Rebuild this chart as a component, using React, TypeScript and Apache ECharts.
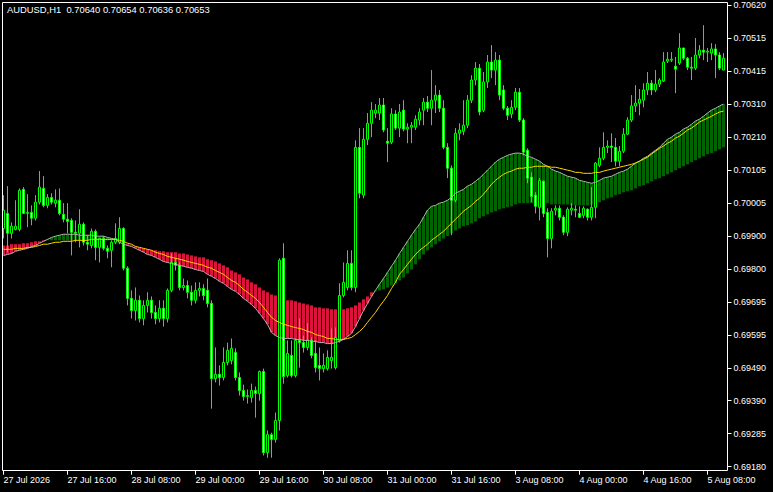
import React, { useEffect, useRef } from "react";
import * as echarts from "echarts";

const chartTitle = "AUDUSD,H1  0.70640 0.70654 0.70636 0.70653";
const xTickLabels = ["27 Jul 2026", "27 Jul 16:00", "28 Jul 08:00", "29 Jul 00:00", "29 Jul 16:00", "30 Jul 08:00", "31 Jul 00:00", "31 Jul 16:00", "3 Aug 08:00", "4 Aug 00:00", "4 Aug 16:00", "5 Aug 08:00"];
const BARS_PER_TICK = 16;
const yTickLabels = ["0.69180", "0.69285", "0.69390", "0.69490", "0.69595", "0.69695", "0.69800", "0.69900", "0.70005", "0.70105", "0.70210", "0.70310", "0.70415", "0.70515", "0.70620"];
const priceMin = 0.6918;
const priceMax = 0.7062;

// hourly bars: [open, high, low, close]
const ohlc: number[][] = [
  [0.69923, 0.70027, 0.69892, 0.6998], [0.6997, 0.70055, 0.69849, 0.69908], [0.69908, 0.69942, 0.69892, 0.6993], [0.6992, 0.70011, 0.69917, 0.6993],
  [0.6992, 0.70048, 0.69914, 0.70042], [0.70045, 0.70052, 0.6997, 0.6997], [0.6997, 0.7003, 0.69927, 0.69973], [0.69973, 0.69995, 0.69933, 0.69955],
  [0.69955, 0.70027, 0.69948, 0.70005], [0.70005, 0.70102, 0.69998, 0.70052], [0.70048, 0.70086, 0.69989, 0.69995], [0.69995, 0.7003, 0.69986, 0.7002],
  [0.7002, 0.70033, 0.69998, 0.70005], [0.70002, 0.70045, 0.69989, 0.70011], [0.70011, 0.70048, 0.69964, 0.6997], [0.69967, 0.70002, 0.69942, 0.69952],
  [0.69952, 0.70002, 0.69908, 0.69945], [0.69948, 0.69955, 0.69839, 0.69911], [0.69911, 0.69948, 0.6988, 0.69908], [0.69908, 0.69983, 0.69864, 0.69936],
  [0.69936, 0.69942, 0.6987, 0.6988], [0.6988, 0.69902, 0.69855, 0.69874], [0.6987, 0.69923, 0.69861, 0.69914], [0.69914, 0.6992, 0.69824, 0.69864],
  [0.69864, 0.69892, 0.69817, 0.69892], [0.69892, 0.69899, 0.69855, 0.69861], [0.69861, 0.6987, 0.6983, 0.69852], [0.69855, 0.69886, 0.69802, 0.6988],
  [0.6988, 0.69939, 0.69874, 0.69892], [0.6988, 0.69958, 0.69874, 0.69923], [0.69923, 0.69927, 0.69792, 0.69799], [0.69799, 0.69805, 0.69683, 0.69705],
  [0.69705, 0.6973, 0.69642, 0.69667], [0.69667, 0.69739, 0.69636, 0.69699], [0.69699, 0.69714, 0.6963, 0.69642], [0.69642, 0.69699, 0.69621, 0.69683],
  [0.69683, 0.69724, 0.69661, 0.69699], [0.69699, 0.69711, 0.69642, 0.69661], [0.69661, 0.69683, 0.69624, 0.69642], [0.69642, 0.69699, 0.6963, 0.69674],
  [0.69674, 0.69699, 0.69617, 0.69642], [0.69642, 0.69736, 0.6963, 0.6973], [0.6973, 0.69845, 0.69724, 0.69817], [0.69817, 0.6983, 0.69792, 0.69808],
  [0.69808, 0.69817, 0.6973, 0.69739], [0.69739, 0.69767, 0.6973, 0.69745], [0.69745, 0.69761, 0.69705, 0.69724], [0.69724, 0.69745, 0.69683, 0.69699],
  [0.69699, 0.69755, 0.69689, 0.6973], [0.6973, 0.69755, 0.69711, 0.69736], [0.69736, 0.69749, 0.69699, 0.69714], [0.6973, 0.69767, 0.69677, 0.69689],
  [0.69689, 0.69699, 0.69361, 0.69455], [0.69455, 0.69552, 0.69443, 0.69468], [0.69468, 0.69496, 0.69433, 0.69458], [0.69458, 0.69552, 0.69449, 0.69505],
  [0.69505, 0.69567, 0.69496, 0.69543], [0.69511, 0.6958, 0.69499, 0.69549], [0.69536, 0.69549, 0.69449, 0.69458], [0.69458, 0.69474, 0.69402, 0.69418],
  [0.69418, 0.69436, 0.69386, 0.69399], [0.69399, 0.69421, 0.69377, 0.69402], [0.69396, 0.69439, 0.6938, 0.69418], [0.69418, 0.6943, 0.69333, 0.69408],
  [0.69408, 0.6948, 0.69386, 0.69477], [0.69477, 0.69486, 0.69215, 0.69224], [0.69224, 0.69293, 0.69208, 0.6928], [0.6928, 0.69286, 0.69208, 0.69265],
  [0.69265, 0.69349, 0.69255, 0.69324], [0.69324, 0.6983, 0.69293, 0.69824], [0.6983, 0.69877, 0.69439, 0.69461], [0.69464, 0.69574, 0.69458, 0.69533],
  [0.69527, 0.69574, 0.69458, 0.69464], [0.69464, 0.6958, 0.69458, 0.69574], [0.69574, 0.69642, 0.69489, 0.69567], [0.69567, 0.69589, 0.69536, 0.69552],
  [0.69552, 0.69627, 0.69543, 0.69574], [0.69574, 0.69583, 0.69518, 0.69527], [0.69533, 0.69574, 0.69474, 0.69489], [0.69496, 0.69552, 0.69449, 0.69486],
  [0.69486, 0.69533, 0.69474, 0.69496], [0.69486, 0.69543, 0.6948, 0.69521], [0.69511, 0.69611, 0.69486, 0.69521], [0.69489, 0.69614, 0.69483, 0.69583],
  [0.69574, 0.69752, 0.69567, 0.69714], [0.69714, 0.69817, 0.69708, 0.69755], [0.69739, 0.69855, 0.6973, 0.69814], [0.69814, 0.69855, 0.6973, 0.69739],
  [0.69739, 0.70198, 0.69724, 0.70176], [0.70176, 0.70236, 0.70017, 0.70033], [0.70027, 0.70236, 0.70017, 0.70201], [0.70201, 0.70283, 0.70183, 0.70251],
  [0.70251, 0.70317, 0.70208, 0.70292], [0.70283, 0.70311, 0.70267, 0.70292], [0.70283, 0.7033, 0.70261, 0.70308], [0.70308, 0.7033, 0.70223, 0.7023],
  [0.70195, 0.70236, 0.7013, 0.70189], [0.70192, 0.70298, 0.70186, 0.7028], [0.7028, 0.70292, 0.7023, 0.70236], [0.70236, 0.70311, 0.70208, 0.70286],
  [0.70292, 0.70323, 0.70226, 0.70233], [0.70233, 0.70251, 0.70189, 0.70239], [0.70239, 0.70255, 0.70189, 0.70245], [0.70239, 0.70276, 0.7023, 0.70264],
  [0.70261, 0.70298, 0.70245, 0.70286], [0.70292, 0.7033, 0.70245, 0.70317], [0.70317, 0.70336, 0.70286, 0.70298], [0.70298, 0.70417, 0.70245, 0.70323],
  [0.70323, 0.7037, 0.70283, 0.70339], [0.70339, 0.70355, 0.70286, 0.70298], [0.70298, 0.70323, 0.7017, 0.70176], [0.70176, 0.70189, 0.7008, 0.70111],
  [0.70111, 0.7012, 0.69902, 0.70011], [0.70011, 0.70236, 0.70005, 0.7022], [0.7022, 0.70251, 0.70198, 0.7023], [0.70226, 0.70323, 0.70214, 0.70245],
  [0.70245, 0.70339, 0.70236, 0.70323], [0.70323, 0.70401, 0.70314, 0.70386], [0.70386, 0.70442, 0.7037, 0.70423], [0.70423, 0.70436, 0.70276, 0.70286],
  [0.70292, 0.70411, 0.70286, 0.7038], [0.7038, 0.70464, 0.70361, 0.70442], [0.70442, 0.70495, 0.70392, 0.70417], [0.70417, 0.70473, 0.7037, 0.70448],
  [0.70448, 0.70464, 0.70323, 0.70339], [0.70355, 0.7037, 0.70292, 0.70298], [0.70298, 0.70305, 0.70261, 0.70276], [0.7028, 0.70323, 0.70267, 0.70301],
  [0.70301, 0.70361, 0.70292, 0.70348], [0.70348, 0.70361, 0.70255, 0.70261], [0.70261, 0.70267, 0.70151, 0.70161], [0.70167, 0.70173, 0.70064, 0.7008],
  [0.70083, 0.70098, 0.70005, 0.70023], [0.70027, 0.70036, 0.6997, 0.69992], [0.69989, 0.7008, 0.69948, 0.70073], [0.7007, 0.70073, 0.69958, 0.6997],
  [0.69973, 0.69986, 0.69833, 0.69892], [0.69892, 0.69986, 0.69861, 0.69977], [0.6998, 0.69995, 0.69964, 0.69986], [0.69986, 0.69995, 0.69948, 0.69958],
  [0.69958, 0.69964, 0.69902, 0.69911], [0.69911, 0.69989, 0.69899, 0.69983], [0.6998, 0.70002, 0.69964, 0.69986], [0.69983, 0.69995, 0.69958, 0.6998],
  [0.6997, 0.69992, 0.69955, 0.69958], [0.69964, 0.69992, 0.69955, 0.69986], [0.69983, 0.69986, 0.69948, 0.69958], [0.69958, 0.70052, 0.69948, 0.69989],
  [0.69989, 0.7013, 0.69955, 0.70127], [0.7012, 0.70176, 0.70114, 0.70142], [0.70142, 0.70223, 0.70136, 0.70176], [0.70176, 0.70198, 0.70158, 0.7018],
  [0.7018, 0.7022, 0.7013, 0.70176], [0.70176, 0.70205, 0.70117, 0.70133], [0.70133, 0.7018, 0.70117, 0.70164], [0.70164, 0.70236, 0.70158, 0.70217],
  [0.70217, 0.7027, 0.70214, 0.70261], [0.70261, 0.70339, 0.70255, 0.70305], [0.70305, 0.7037, 0.70286, 0.70314], [0.70314, 0.70358, 0.70276, 0.70326],
  [0.70323, 0.70376, 0.70301, 0.70355], [0.70355, 0.70411, 0.70339, 0.70376], [0.70376, 0.70386, 0.70339, 0.70355], [0.70355, 0.70417, 0.70348, 0.70373],
  [0.70373, 0.70392, 0.70364, 0.70386], [0.70383, 0.70473, 0.7038, 0.70442], [0.70445, 0.70473, 0.70439, 0.70451], [0.70448, 0.70473, 0.70442, 0.70451],
  [0.70429, 0.70458, 0.70345, 0.7042], [0.70439, 0.70532, 0.70433, 0.70486], [0.70486, 0.70486, 0.70448, 0.70454], [0.70454, 0.70458, 0.70417, 0.70426],
  [0.70426, 0.70458, 0.70386, 0.70423], [0.70423, 0.70517, 0.70417, 0.70464], [0.70464, 0.70495, 0.70454, 0.70479], [0.70479, 0.70557, 0.70448, 0.70473],
  [0.70473, 0.70486, 0.70442, 0.70476], [0.7047, 0.70501, 0.70448, 0.70483], [0.70483, 0.70498, 0.70392, 0.70464], [0.70464, 0.70473, 0.70417, 0.70423],
  [0.70417, 0.7047, 0.70417, 0.70454],
];

// grey edge of the cloud (fast average)
const fastMA: number[] = [
  0.69839, 0.69842, 0.69845, 0.69852, 0.69855, 0.69858, 0.69861, 0.69867, 0.6987, 0.69877,
  0.69883, 0.69889, 0.69895, 0.69899, 0.69902, 0.69905, 0.69905, 0.69905, 0.69905, 0.69902,
  0.69902, 0.69902, 0.69902, 0.69899, 0.69899, 0.69899, 0.69895, 0.69892, 0.69889, 0.6988,
  0.69874, 0.6987, 0.69867, 0.69861, 0.69855, 0.69849, 0.69842, 0.69839, 0.69833, 0.69827,
  0.6982, 0.69817, 0.69814, 0.69811, 0.69808, 0.69805, 0.69802, 0.69799, 0.69795, 0.69792,
  0.69789, 0.6978, 0.69774, 0.69767, 0.69758, 0.69752, 0.69742, 0.69733, 0.69727, 0.69717,
  0.69705, 0.69696, 0.69686, 0.69674, 0.69658, 0.69642, 0.69624, 0.69599, 0.69589, 0.69583,
  0.6958, 0.6958, 0.6958, 0.69577, 0.69577, 0.69574, 0.69574, 0.69571, 0.69571, 0.69567,
  0.69567, 0.69564, 0.69564, 0.69567, 0.69571, 0.69577, 0.69586, 0.69596, 0.69617, 0.69642,
  0.69667, 0.69689, 0.69711, 0.6973, 0.69749, 0.69767, 0.69786, 0.69805, 0.69824, 0.69845,
  0.69864, 0.69883, 0.69902, 0.6992, 0.69936, 0.69958, 0.6998, 0.69992, 0.69995, 0.70002,
  0.70005, 0.70011, 0.7002, 0.70033, 0.70039, 0.70045, 0.70055, 0.70061, 0.7007, 0.7008,
  0.70092, 0.70105, 0.70117, 0.7013, 0.70139, 0.70145, 0.70151, 0.70155, 0.70158, 0.70158,
  0.70155, 0.70148, 0.70145, 0.70139, 0.70133, 0.70123, 0.70117, 0.70108, 0.70102, 0.70098,
  0.70092, 0.70086, 0.70083, 0.7008, 0.70073, 0.7007, 0.70067, 0.70064, 0.70067, 0.70073,
  0.7008, 0.70083, 0.70086, 0.70092, 0.70098, 0.70102, 0.70108, 0.70117, 0.70127, 0.70133,
  0.70142, 0.70148, 0.70158, 0.70167, 0.70176, 0.70189, 0.70201, 0.70208, 0.70217, 0.70223,
  0.70233, 0.70239, 0.70248, 0.70258, 0.70264, 0.70273, 0.70283, 0.70292, 0.70298, 0.70305, 0.70311,
];

// far edge of the cloud bars (slow average)
const slowMA: number[] = [
  0.6987, 0.6987, 0.69874, 0.69874, 0.69874, 0.69877, 0.69877, 0.6988, 0.69883, 0.69883,
  0.69886, 0.69886, 0.69886, 0.69886, 0.69886, 0.69886, 0.69886, 0.69886, 0.69886, 0.69886,
  0.69886, 0.69886, 0.69886, 0.69886, 0.69886, 0.69886, 0.69886, 0.69886, 0.69883, 0.6988,
  0.69877, 0.69874, 0.6987, 0.69867, 0.69864, 0.69861, 0.69858, 0.69855, 0.69855, 0.69852,
  0.69852, 0.69849, 0.69849, 0.69849, 0.69845, 0.69845, 0.69842, 0.69839, 0.69836, 0.69833,
  0.69833, 0.69827, 0.69824, 0.6982, 0.69814, 0.69808, 0.69802, 0.69792, 0.69786, 0.6978,
  0.6977, 0.69764, 0.69755, 0.69749, 0.69739, 0.6973, 0.69724, 0.69717, 0.69714, 0.69708,
  0.69702, 0.69699, 0.69699, 0.69696, 0.69692, 0.69689, 0.69686, 0.69683, 0.69677, 0.69677,
  0.69674, 0.69674, 0.69671, 0.69671, 0.69671, 0.69671, 0.69674, 0.69677, 0.69683, 0.69692,
  0.69702, 0.69711, 0.69724, 0.69727, 0.6973, 0.69733, 0.69739, 0.69745, 0.69752, 0.69761,
  0.6977, 0.69783, 0.69795, 0.69811, 0.69827, 0.69842, 0.69855, 0.69864, 0.69874, 0.69883,
  0.69892, 0.69899, 0.69908, 0.69917, 0.69923, 0.6993, 0.69933, 0.69939, 0.69945, 0.69955,
  0.69961, 0.69967, 0.69973, 0.69977, 0.69983, 0.69986, 0.69989, 0.69992, 0.69998, 0.70002,
  0.70002, 0.70002, 0.70002, 0.70002, 0.70002, 0.70002, 0.70002, 0.69998, 0.69998, 0.69998,
  0.69998, 0.69998, 0.69995, 0.69995, 0.69995, 0.69995, 0.69995, 0.69998, 0.70002, 0.70005,
  0.70011, 0.70017, 0.7002, 0.70027, 0.7003, 0.70036, 0.70039, 0.70042, 0.70048, 0.70055,
  0.70058, 0.70064, 0.7007, 0.70077, 0.7008, 0.70086, 0.70092, 0.70098, 0.70105, 0.70111,
  0.70117, 0.70123, 0.7013, 0.70136, 0.70142, 0.70148, 0.70155, 0.70158, 0.70164, 0.7017, 0.70176,
];

// yellow line
const signalMA: number[] = [
  0.69858, 0.69858, 0.69858, 0.69861, 0.69861, 0.69861, 0.69864, 0.69864, 0.69867, 0.6987,
  0.69874, 0.69874, 0.69877, 0.6988, 0.6988, 0.69883, 0.69883, 0.69883, 0.69886, 0.69886,
  0.69886, 0.69886, 0.69889, 0.69889, 0.69889, 0.69889, 0.69889, 0.69889, 0.69889, 0.69886,
  0.69883, 0.69877, 0.69874, 0.69867, 0.69864, 0.69861, 0.69858, 0.69855, 0.69849, 0.69845,
  0.69842, 0.69836, 0.69833, 0.6983, 0.69827, 0.69824, 0.6982, 0.69817, 0.69814, 0.69811,
  0.69808, 0.69802, 0.69799, 0.69792, 0.69786, 0.6978, 0.6977, 0.69761, 0.69755, 0.69745,
  0.69733, 0.69724, 0.69714, 0.69705, 0.69692, 0.69677, 0.69661, 0.69646, 0.69636, 0.6963,
  0.69624, 0.69621, 0.69617, 0.69614, 0.69611, 0.69608, 0.69602, 0.69599, 0.69592, 0.69589,
  0.69586, 0.6958, 0.6958, 0.69577, 0.69577, 0.69577, 0.6958, 0.69583, 0.69592, 0.69602,
  0.69614, 0.6963, 0.69646, 0.69661, 0.6968, 0.69696, 0.69714, 0.69736, 0.69755, 0.6978,
  0.69795, 0.69811, 0.69827, 0.69842, 0.69855, 0.69864, 0.69874, 0.69886, 0.69895, 0.69905,
  0.69914, 0.69927, 0.69939, 0.69952, 0.69964, 0.69977, 0.69986, 0.69995, 0.70008, 0.70017,
  0.7003, 0.70045, 0.70061, 0.70073, 0.70083, 0.70092, 0.70098, 0.70102, 0.70108, 0.70111,
  0.70111, 0.70114, 0.70114, 0.70117, 0.70117, 0.70117, 0.70117, 0.70114, 0.70114, 0.70111,
  0.70108, 0.70105, 0.70102, 0.70098, 0.70098, 0.70095, 0.70095, 0.70095, 0.70098, 0.70098,
  0.70102, 0.70105, 0.70108, 0.70111, 0.70114, 0.70117, 0.7012, 0.70123, 0.70127, 0.70133,
  0.70139, 0.70145, 0.70155, 0.70164, 0.70173, 0.7018, 0.70189, 0.70195, 0.70205, 0.70211,
  0.7022, 0.7023, 0.70236, 0.70245, 0.70255, 0.70261, 0.70267, 0.70273, 0.7028, 0.70286, 0.70289,
];

const FONT = "'Liberation Sans', Arial, sans-serif";
const BULL_UP = "#006400";
const BEAR_DOWN = "#dc143c";

function buildOption(): any {
  const bars = ohlc.map((_, i) => String(i));
  return {
    animation: false,
    backgroundColor: "#000000",
    title: {
      text: chartTitle,
      left: 7,
      top: 5,
      padding: 0,
      textStyle: { color: "#ffffff", fontSize: 9.4, fontWeight: "normal", fontFamily: FONT },
    },
    grid: { left: 1.5, top: 5, width: 724, height: 461.7, outerBoundsMode: "none", containLabel: false },
    xAxis: {
      type: "category",
      data: bars,
      boundaryGap: true,
      offset: 4,
      axisLine: { show: false },
      axisTick: { show: true, interval: BARS_PER_TICK - 1, alignWithLabel: true, length: 4, lineStyle: { color: "#ffffff", width: 1 } },
      axisLabel: {
        interval: BARS_PER_TICK - 1,
        formatter: (_v: string, idx: number) => xTickLabels[idx / BARS_PER_TICK] ?? "",
        color: "#ffffff",
        fontSize: 9,
        fontFamily: FONT,
        align: "left",
        margin: 5,
      },
      splitLine: { show: false },
    },
    yAxis: [
      { type: "value", min: priceMin, max: priceMax, scale: true, show: false, splitLine: { show: false } },
      {
        type: "category",
        data: yTickLabels,
        position: "right",
        boundaryGap: false,
        offset: 2,
        axisLine: { show: false },
        axisTick: { show: true, interval: 0, length: 4, lineStyle: { color: "#ffffff", width: 1 } },
        axisLabel: { interval: 0, color: "#ffffff", fontSize: 9, fontFamily: FONT, margin: 6 },
        splitLine: { show: false },
      },
    ],
    graphic: [
      {
        type: "rect",
        silent: true,
        z: 100,
        shape: { x: 2.5, y: 2.5, width: 725, height: 468 },
        style: { fill: "none", stroke: "#ffffff", lineWidth: 1 },
      },
    ],
    series: [
      {
        type: "custom",
        name: "cloud",
        xAxisIndex: 0,
        yAxisIndex: 0,
        z: 1,
        silent: true,
        data: fastMA.map((f, i) => [i, f, slowMA[i]]),
        encode: { x: 0, y: [1, 2] },
        renderItem: (_params: any, api: any) => {
          const i = api.value(0);
          const f = api.value(1);
          const s = api.value(2);
          const pf = api.coord([i, f]);
          const ps = api.coord([i, s]);
          const top = Math.min(pf[1], ps[1]);
          const h = Math.abs(pf[1] - ps[1]);
          return {
            type: "rect",
            shape: { x: pf[0] - 1.5, y: top, width: 3, height: h },
            style: { fill: f >= s ? BULL_UP : BEAR_DOWN },
          };
        },
      },
      {
        type: "candlestick",
        name: "AUDUSD",
        xAxisIndex: 0,
        yAxisIndex: 0,
        z: 2,
        silent: true,
        barWidth: 2,
        data: ohlc.map(([o, h, l, c]) => [o, c, l, h]),
        itemStyle: {
          color: "#000000",
          color0: "#ffffff",
          borderColor: "#00ff00",
          borderColor0: "#00ff00",
          borderColorDoji: "#00ff00",
          borderWidth: 1,
        },
      },
      {
        type: "line",
        name: "fast",
        xAxisIndex: 0,
        yAxisIndex: 0,
        z: 3,
        silent: true,
        symbol: "none",
        data: fastMA,
        lineStyle: { color: "#b4b4b4", width: 1 },
      },
      {
        type: "line",
        name: "signal",
        xAxisIndex: 0,
        yAxisIndex: 0,
        z: 4,
        silent: true,
        symbol: "none",
        data: signalMA,
        lineStyle: { color: "#ffd700", width: 1 },
      },
    ],
  };
}

export default function App() {
  const ref = useRef<HTMLDivElement>(null);
  useEffect(() => {
    if (!ref.current) return;
    const chart = echarts.init(ref.current, null, { renderer: "svg", width: 773, height: 492 });
    chart.setOption(buildOption());
    return () => chart.dispose();
  }, []);
  return (
    <div
      ref={ref}
      style={{ position: "fixed", left: 0, top: 0, width: 773, height: 492, background: "#000000" }}
    />
  );
}
